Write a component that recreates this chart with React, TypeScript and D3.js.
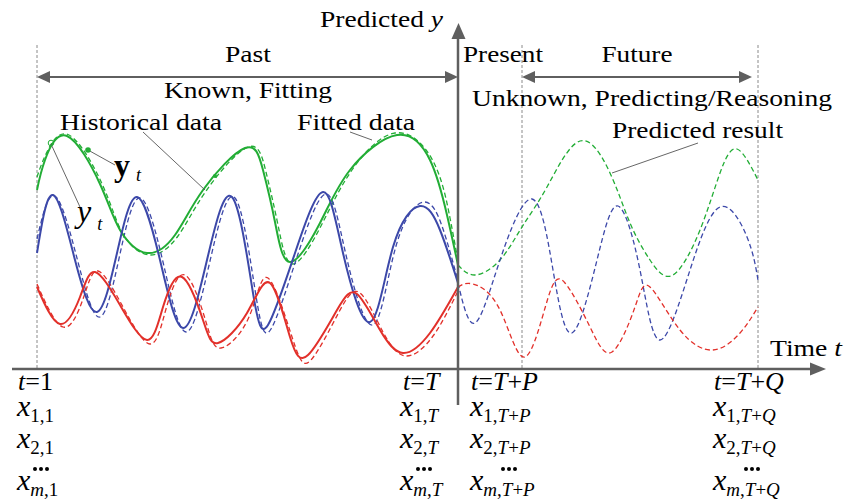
import React, { useEffect, useState } from 'react';
import * as d3 from 'd3';

type Pt = [number, number];

// time units on x, value units on y
const greenHistory: Pt[] = [
  [0, 35.8], [1.6, 41.8], [6, 46.6], [12.6, 37], [16.6, 27.8], [22, 23.2], [27.6, 26.8],
  [33.2, 35.8], [41.6, 44.2], [45.2, 39.8], [47.6, 29.4], [50.6, 21.4], [56.6, 29.2],
  [62.6, 39.8], [72, 46.8], [78.6, 41.8], [82, 30.8], [84.2, 20.8],
];
const greenFitted: Pt[] = [
  [0, 38.4], [1.8, 43], [6.4, 46.8], [13.2, 36.6], [17.2, 27], [22.6, 22.8], [28.2, 26.6],
  [33.8, 35.6], [42.2, 44.4], [45.8, 39.4], [48.2, 28.8], [51.2, 21], [57, 29], [63, 39.8],
  [71.6, 47.2], [79.2, 41.6], [82.6, 30.2], [84.2, 21.6],
];
const greenPredicted: Pt[] = [
  [84.2, 20.8], [87.6, 18.8], [92.6, 21.8], [97, 28.4], [102, 36.4], [108.6, 45.6],
  [114.6, 39.2], [118.6, 29.2], [122.6, 21.8], [127.2, 18.8], [132.6, 27.8], [136.6, 39.2],
  [140, 44], [144.2, 37.8],
];

const blueHistory: Pt[] = [
  [0, 23.2], [3.2, 34.8], [7.6, 21.8], [12, 11.4], [16, 23.2], [20, 34.4], [24.6, 21.8],
  [29.2, 8.2], [34, 21.8], [39, 34.4], [43.2, 15.2], [46.2, 8.8], [51.6, 23.2], [57.2, 35.4],
  [61.2, 23.2], [66.6, 9.4], [71.2, 24.4], [76.6, 32.6], [80.6, 27.8], [84.2, 17.2],
];
const blueFitted: Pt[] = [
  [0, 26], [3.6, 34.6], [8.2, 21.4], [12.6, 10.4], [16.6, 23], [20.6, 34.2], [25.2, 21.4],
  [29.8, 7.4], [34.6, 21.6], [39.6, 34.2], [43.8, 14.6], [46.8, 8], [52.2, 23], [57.8, 35],
  [61.8, 22.8], [67.2, 8.8], [71.8, 24.6], [77.4, 33.4], [81.2, 28], [84.2, 17.6],
];
const bluePredicted: Pt[] = [
  [84.2, 17.2], [87.6, 9.2], [92.6, 21.8], [99, 34], [103.2, 19.8], [107, 7.2], [112, 21.8],
  [116.2, 32.6], [120.6, 19.8], [124.6, 5.8], [130.6, 19.8], [136.6, 32.4], [142, 26.4],
  [144.2, 17.8],
];

const redHistory: Pt[] = [
  [0, 16.4], [4.6, 9], [8.6, 14.4], [11.6, 19.4], [16.6, 12.8], [22, 5.8], [25.2, 12.4],
  [29, 18.4], [33.2, 9.8], [36.2, 5.2], [42, 11.2], [46.6, 17.2], [50.6, 6.4], [54.2, 2.8],
  [60, 11.8], [64, 15], [68.6, 7.8], [73.2, 3.2], [78.6, 7.2], [84.2, 16.4],
];
const redFitted: Pt[] = [
  [0, 17], [5.2, 8.4], [9.2, 14], [12.2, 19.6], [17.2, 12.4], [22.6, 5], [25.8, 12],
  [29.6, 18.8], [33.8, 9.4], [36.8, 4.2], [42.4, 10.4], [46.2, 18.2], [51.2, 5.8],
  [54.8, 1.8], [60.4, 11.4], [64.6, 15.2], [69.2, 7.4], [73.8, 2.6], [79.2, 6.6], [84.2, 15.6],
];
const redPredicted: Pt[] = [
  [84.2, 16.4], [87.2, 17], [92.6, 11.8], [97.6, 2.4], [102.2, 14.2], [105.6, 17.2],
  [110.6, 8.4], [115, 3.4], [119.6, 12.4], [122.6, 16.4], [128.6, 7.8], [135.2, 3.8],
  [140.6, 7.2], [144.2, 12.4],
];

// time markers: t=1, present axis, t=T+P, t=T+Q
const tStart = 0;
const tPresent = 84.2;
const tP = 97;
const tQ = 144.2;

const timeLabels = ['t=1', 't=T', 't=T+P', 't=T+Q'];
const subLabels = [
  ['1,1', '2,1', 'm,1'],
  ['1,T', '2,T', 'm,T'],
  ['1,T+P', '2,T+P', 'm,T+P'],
  ['1,T+Q', '2,T+Q', 'm,T+Q'],
];

const GREEN = '#22ad35';
const BLUE = '#3c48a9';
const RED = '#e2302a';
const AXIS = '#5f5f5f';
const SERIF = 'Liberation Serif';

const xScale = d3.scaleLinear().domain([0, 144.2]).range([37, 758]);
const yScale = d3.scaleLinear().domain([0, 60]).range([369, 69]);

const line = d3.line<Pt>()
  .x((d) => xScale(d[0]))
  .y((d) => yScale(d[1]))
  .curve(d3.curveNatural);

// letters italic, the rest upright
function mathParts(s: string) {
  return s.split('').map((c, i) => (
    <tspan key={i} fontStyle={/[a-zA-Z]/.test(c) ? 'italic' : 'normal'}>{c}</tspan>
  ));
}

function Label({ x, y, size = 24, anchor = 'start', len, children }: any) {
  const fit = len ? { textLength: len, lengthAdjust: 'spacingAndGlyphs' } : {};
  return (
    <text x={x} y={y} textAnchor={anchor} {...fit}
      style={{ fontFamily: `"${SERIF}"`, fontSize: size }}>
      {children}
    </text>
  );
}

function DoubleArrow({ x1, x2, y }: { x1: number; x2: number; y: number }) {
  const L = 13, H = 6;
  return (
    <g fill={AXIS} stroke={AXIS}>
      <line x1={x1 + 4} x2={x2 - 4} y1={y} y2={y} strokeWidth={2.2} />
      <polygon stroke="none" points={`${x1},${y} ${x1 + L},${y - H} ${x1 + L},${y + H}`} />
      <polygon stroke="none" points={`${x2},${y} ${x2 - L},${y - H} ${x2 - L},${y + H}`} />
    </g>
  );
}

export default function App() {
  // redraw once the local fonts are ready
  const [pass, setPass] = useState(0);
  useEffect(() => {
    const t = setTimeout(() => setPass(1), 30);
    if ((document as any).fonts) (document as any).fonts.ready.then(() => setPass(2));
    return () => clearTimeout(t);
  }, []);

  const axisY = yScale(0);
  const axisX = xScale(tPresent);
  const markX = [xScale(tStart), xScale(tP), xScale(tQ)];
  const colX = [17, 400, 470, 713];
  const dotDx = [24, 24, 39, 39];

  const solid = { fill: 'none', strokeWidth: 2 };
  const dashed = { fill: 'none', strokeWidth: 1.3, strokeDasharray: '5,3' };

  return (
    <svg key={pass} width={856} height={504} style={{ position: 'absolute', left: 0, top: 0, background: '#fff' }}>
      {/* guide lines */}
      {markX.map((x, i) => (
        <line key={i} x1={x} x2={x} y1={45} y2={axisY} stroke="#8a8a8a" strokeWidth={1} strokeDasharray="3,2" />
      ))}

      {/* series */}
      <path d={line(greenFitted)!} stroke={GREEN} {...dashed} />
      <path d={line(blueFitted)!} stroke={BLUE} {...dashed} />
      <path d={line(redFitted)!} stroke={RED} {...dashed} />
      <path d={line(greenHistory)!} stroke={GREEN} {...solid} />
      <path d={line(blueHistory)!} stroke={BLUE} {...solid} />
      <path d={line(redHistory)!} stroke={RED} {...solid} />
      <path d={line(greenPredicted)!} stroke={GREEN} {...dashed} />
      <path d={line(bluePredicted)!} stroke={BLUE} {...dashed} />
      <path d={line(redPredicted)!} stroke={RED} {...dashed} />

      {/* axes */}
      <g fill={AXIS} stroke={AXIS}>
        <line x1={12} x2={814} y1={axisY} y2={axisY} strokeWidth={2.5} />
        <polygon stroke="none" points={`826,${axisY} 810,${axisY - 6.5} 810,${axisY + 6.5}`} />
        <line x1={axisX} x2={axisX} y1={405} y2={34} strokeWidth={2.5} />
        <polygon stroke="none" points={`${axisX + 0.5},23 ${axisX - 6.5},39 ${axisX + 7.5},39`} />
      </g>

      <DoubleArrow x1={xScale(tStart)} x2={axisX} y={77} />
      <DoubleArrow x1={xScale(tP)} x2={752} y={77} />

      {/* leader lines and markers */}
      <g stroke="#555" strokeWidth={0.9} fill="none">
        <line x1={143} y1={132} x2={205} y2={190} />
        <line x1={350} y1={132} x2={372} y2={140} />
        <line x1={698} y1={143} x2={612} y2={173} />
        <line x1={88} y1={150} x2={115} y2={165} />
        <line x1={51} y1={144} x2={80} y2={207} />
      </g>
      <circle cx={88} cy={150} r={2.8} fill={GREEN} />
      <circle cx={215} cy={176} r={2} fill={GREEN} />
      <circle cx={51} cy={143} r={2.8} fill="none" stroke={GREEN} strokeWidth={1} />

      {/* texts */}
      <Label x={320} y={27} len={123}>Predicted <tspan fontStyle="italic">y</tspan></Label>
      <Label x={248} y={62} anchor="middle" len={46}>Past</Label>
      <Label x={248} y={98} anchor="middle" len={168}>Known, Fitting</Label>
      <Label x={463} y={62} len={80}>Present</Label>
      <Label x={637} y={62} anchor="middle" len={71}>Future</Label>
      <Label x={472} y={106} len={360}>Unknown, Predicting/Reasoning</Label>
      <Label x={60} y={130} len={162}>Historical data</Label>
      <Label x={297} y={130} len={118}>Fitted data</Label>
      <Label x={612} y={138} len={171}>Predicted result</Label>
      <Label x={770} y={356} len={72}>Time <tspan fontStyle="italic">t</tspan></Label>

      <Label x={114} y={176} size={32}>
        <tspan fontWeight="bold">y</tspan>
        <tspan fontSize={18} fontStyle="italic" dx={6} dy={5}>t</tspan>
      </Label>
      <Label x={77} y={222} size={32}>
        <tspan fontStyle="italic">y</tspan>
        <tspan fontSize={18} fontStyle="italic" dx={6} dy={8}>t</tspan>
      </Label>

      {timeLabels.map((lab, i) => (
        <g key={lab}>
          <Label x={colX[i] + (i === 1 ? 3 : 1)} y={390} size={26}>{mathParts(lab)}</Label>
          {subLabels[i].map((sub, j) => (
            <Label key={sub} x={colX[i]} y={[416, 448, 490][j]} size={30}>
              <tspan fontStyle="italic">x</tspan>
              <tspan fontSize={19} dy={6}>{mathParts(sub)}</tspan>
            </Label>
          ))}
          {[-6, 0, 6].map((dx) => (
            <circle key={dx} cx={colX[i] + dotDx[i] + dx} cy={469} r={2} fill="#000" />
          ))}
        </g>
      ))}
    </svg>
  );
}
